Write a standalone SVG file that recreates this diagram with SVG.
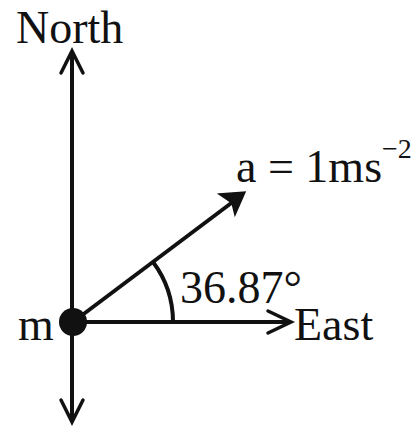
<svg xmlns="http://www.w3.org/2000/svg" width="419" height="427" viewBox="0 0 419 427">
<defs>
<style>
.ln{stroke:#111;stroke-width:4;fill:none}
.hd{stroke:#111;stroke-width:3.5;fill:none;stroke-linejoin:miter;stroke-linecap:round}
.t{font-family:"Liberation Serif","Times New Roman",serif;fill:#111;font-size:46px}
</style>
</defs>
<rect width="419" height="427" fill="#fff"/>
<g id="connectors">
<line class="ln" x1="72" y1="52" x2="72" y2="420"/>
<path class="hd" d="M61 73 L72 51 L83 73"/>
<path class="hd" d="M61 400 L72 422 L83 400"/>
<line class="ln" x1="73" y1="322" x2="289" y2="322"/>
<path class="hd" d="M268 311 L291 322 L268 333"/>
<line class="ln" x1="73" y1="322" x2="242" y2="195"/>
<path d="M219 194 L245 192 L235 215 L232 203 Z" fill="#111" stroke="#111" stroke-width="1.5" stroke-linejoin="miter"/>
<path class="ln" stroke-width="3" d="M173 322 A100 100 0 0 0 153 262"/>
</g>
<g id="node-m">
<circle cx="73" cy="322" r="14" fill="#111"/>
<text class="t" x="18" y="340">m</text>
</g>
<g id="label-north"><text class="t" x="16" y="43" font-size="48">North</text></g>
<g id="label-east"><text class="t" x="294" y="340" font-size="47">East</text></g>
<g id="label-angle"><text class="t" x="180" y="303" font-size="47">36.87°</text></g>
<g id="label-a"><text class="t" x="236" y="182">a = 1ms<tspan font-size="28" dy="-24">−2</tspan></text></g>
</svg>
